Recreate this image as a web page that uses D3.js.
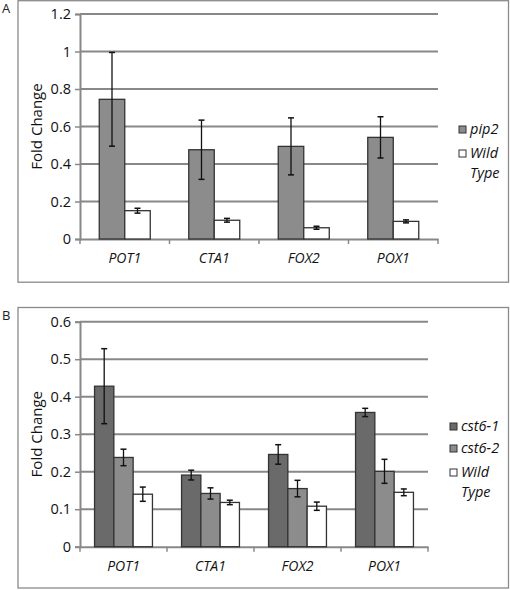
<!DOCTYPE html>
<html><head><meta charset="utf-8">
<script src="https://cdn.jsdelivr.net/npm/d3@7"></script>
<style>body{margin:0;background:#fff}svg{display:block;font-family:"Open Sans",sans-serif}</style>
</head><body><svg id="c" width="510" height="590"></svg>
<script>
const categories = ["POT1","CTA1","FOX2","POX1"];
// Panel A
const seriesA = ["pip2","Wild Type"];
const pip2 = [0.745,0.476,0.494,0.542];
const pip2Err = [0.25,0.158,0.152,0.11];
const wtA = [0.151,0.1,0.06,0.094];
const wtAErr = [0.013,0.01,0.008,0.008];
const ticksA = [0,0.2,0.4,0.6,0.8,1,1.2];
// Panel B
const seriesB = ["cst6-1","cst6-2","Wild Type"];
const cst61 = [0.428,0.191,0.246,0.358];
const cst61Err = [0.1,0.013,0.026,0.011];
const cst62 = [0.238,0.142,0.155,0.201];
const cst62Err = [0.022,0.015,0.022,0.032];
const wtB = [0.14,0.118,0.108,0.145];
const wtBErr = [0.019,0.006,0.011,0.009];
const ticksB = [0,0.1,0.2,0.3,0.4,0.5,0.6];

const svg = d3.select("#c");
const fills = {dark:"#6a6a6a", mid:"#8c8c8c", white:"#ffffff"};

function panel(o){
  const g = svg.append("g");
  g.append("rect").attr("x",o.frame[0]).attr("y",o.frame[1]).attr("width",o.frame[2]).attr("height",o.frame[3])
    .attr("fill","none").attr("stroke","#8a8a8a").attr("stroke-width",1.3);
  g.append("text").attr("x",2).attr("y",o.frame[1]+12).attr("font-size",13).attr("fill","#222").text(o.letter);
  const y = d3.scaleLinear().domain([0,o.max]).range([o.y0,o.y1]);
  const x = d3.scaleBand().domain(categories).range([o.x0,o.x1]);
  // gridlines
  g.selectAll(".grid").data(o.ticks.slice(1)).join("line")
    .attr("x1",o.x0).attr("x2",o.x1).attr("y1",d=>y(d)).attr("y2",d=>y(d))
    .attr("stroke","#888").attr("stroke-width",2);
  // y axis
  const ya = g.append("g").attr("transform",`translate(${o.x0},0)`)
    .call(d3.axisLeft(y).tickValues(o.ticks).tickFormat(d=>String(d)).tickSize(5).tickPadding(4));
  ya.select(".domain").attr("stroke","#888").attr("stroke-width",2);
  ya.selectAll(".tick line").attr("stroke","#888").attr("stroke-width",1.5);
  ya.selectAll("text").attr("font-size",14.5).attr("fill","#111").attr("font-family","Open Sans, sans-serif");
  // x axis
  const xa = g.append("g").attr("transform",`translate(0,${o.y0})`)
    .call(d3.axisBottom(x).tickSize(0).tickPadding(14));
  xa.select(".domain").attr("stroke","#888").attr("stroke-width",2);
  xa.selectAll("text").attr("font-size",14).attr("font-style","italic").attr("fill","#111").attr("font-family","Open Sans, sans-serif");
  g.selectAll(".xt").data(d3.range(categories.length+1)).join("line")
    .attr("x1",i=>o.x0+i*x.step()).attr("x2",i=>o.x0+i*x.step())
    .attr("y1",o.y0).attr("y2",o.y0+5).attr("stroke","#888").attr("stroke-width",1.5);
  // bars
  const n = o.series.length;
  const inner = d3.scaleBand().domain(d3.range(n)).range([0,o.bw*n]);
  o.series.forEach((s,si)=>{
    const gs = g.append("g");
    const bx = c => x(c) + (x.bandwidth()-o.bw*n)/2 + inner(si);
    gs.selectAll("rect").data(categories).join("rect")
      .attr("x",c=>bx(c)).attr("width",o.bw)
      .attr("y",(c,i)=>y(s.vals[i])).attr("height",(c,i)=>y(0)-y(s.vals[i]))
      .attr("fill",s.fill).attr("stroke","#333").attr("stroke-width",1.3);
    categories.forEach((c,i)=>{
      const cx = bx(c)+o.bw/2, hi=y(s.vals[i]+s.err[i]), lo=y(s.vals[i]-s.err[i]);
      gs.append("line").attr("x1",cx).attr("x2",cx).attr("y1",hi).attr("y2",lo).attr("stroke","#111").attr("stroke-width",1.3);
      [hi,lo].forEach(yy=>gs.append("line").attr("x1",cx-3).attr("x2",cx+3).attr("y1",yy).attr("y2",yy).attr("stroke","#111").attr("stroke-width",1.5));
    });
  });
  // y title
  g.append("text").attr("transform",`translate(${o.titleX},${(o.y0+o.y1)/2}) rotate(-90)`)
    .attr("text-anchor","middle").attr("font-size",15).attr("fill","#111").text("Fold Change");
  // legend
  o.series.forEach((s,si)=>{
    const ly = o.legY[si];
    g.append("rect").attr("x",o.legX).attr("y",ly-8).attr("width",7).attr("height",7)
      .attr("fill",s.fill).attr("stroke","#333").attr("stroke-width",1);
    const words = s.name.split(" ");
    words.forEach((w,wi)=>{
      g.append("text").attr("x",o.legX+11+(wi>0?0:0)).attr("y",ly+wi*20).attr("font-size",14.5)
        .attr("font-style","italic").attr("fill","#111").text(w);
    });
  });
}

panel({letter:"A", frame:[18,0.7,490.5,281.5], max:1.2, ticks:ticksA, x0:80, x1:438, y0:239, y1:14, bw:25.5,
  titleX:42, legX:459, legY:[134,158],
  series:[{name:seriesA[0],vals:pip2,err:pip2Err,fill:fills.mid},{name:seriesA[1],vals:wtA,err:wtAErr,fill:fills.white}]});
panel({letter:"B", frame:[18,307.5,490.5,280.5], max:0.6, ticks:ticksB, x0:80, x1:428, y0:546.7, y1:321.7, bw:19.3,
  titleX:42, legX:450, legY:[431,453,477],
  series:[{name:seriesB[0],vals:cst61,err:cst61Err,fill:fills.dark},{name:seriesB[1],vals:cst62,err:cst62Err,fill:fills.mid},{name:seriesB[2],vals:wtB,err:wtBErr,fill:fills.white}]});
</script></body></html>
